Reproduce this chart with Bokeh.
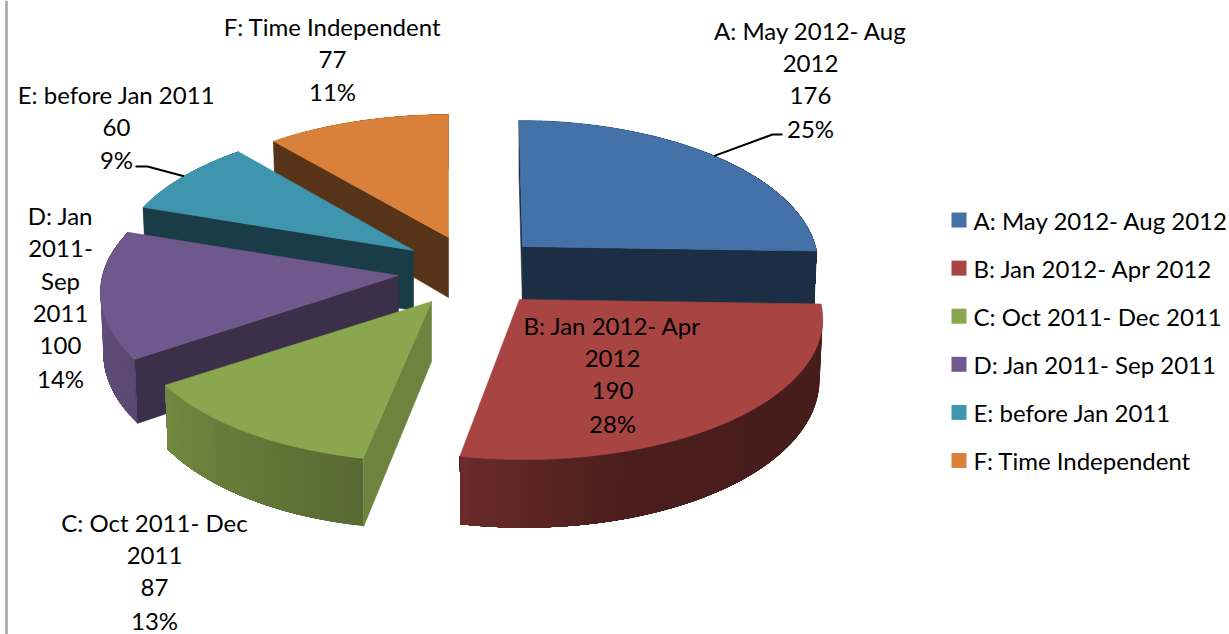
import numpy as np
from bokeh.plotting import figure
from bokeh.models import Range1d
from bokeh.core.properties import value
from bokeh.embed import file_html
from bokeh.resources import INLINE

# ---- data ----
categories = ["A: May 2012- Aug 2012", "B: Jan 2012- Apr 2012", "C: Oct 2011- Dec 2011",
              "D: Jan 2011- Sep 2011", "E: before Jan 2011", "F: Time Independent"]
values = [176, 190, 87, 100, 60, 77]
percents = ["25%", "28%", "13%", "14%", "9%", "11%"]
colors = ["#4472A8", "#A84442", "#8AA64F", "#6F588C", "#3F95AE", "#D9813B"]
wrapped = [["A: May 2012- Aug", "2012"], ["B: Jan 2012- Apr", "2012"], ["C: Oct 2011- Dec", "2011"],
           ["D: Jan", "2011-", "Sep", "2011"], ["E: before Jan 2011"], ["F: Time Independent"]]

# ---- layout of the exploded, perspective pie (pixels) ----
W, H = 1229, 634
apex = [(522, 246), (519, 299), (431, 301), (398, 275), (413, 250), (448, 237)]
shear = [0.028, 0.032, -0.03, 0.0, 0.0, 0.0]
rx_scale = [0.99, 1.015, 1.0, 1.0, 1.0, 1.0]
ry_scale = [1.0, 1.0, 1.0, 1.0, 1.0, 0.975]
cut_shade = [0.40, 0.40, 0.79, 0.53, 0.40, 0.40]
RX, A, K, DEPTH = 296.0, 141.0, 0.119, 60.0
label_x = [810, 612, 154, 60, 116, 332]
label_y = [30, 325, 522, 215, 94, 26]
LINE = 32.5
paint_order = [5, 4, 3, 2, 0, 1]
elbows = {0: [(772, 134), (782, 134)], 4: [(147, 166), (135, 166)]}
legend_x, legend_y0, legend_dy = 958.5, 219.5, 48.1
FONT = value("Lato")
FS = "24px"


def hex_scale(c, f):
    r, g, b = (int(c[i:i + 2], 16) for i in (1, 3, 5))
    return "#%02x%02x%02x" % (round(r * f), round(g * f), round(b * f))


def rim(i, deg, lower=False):
    t = np.radians(deg)
    s, c = np.sin(t), np.cos(t)
    w = 1 + K * c
    dx, dy = RX * rx_scale[i] * s / w, -A * ry_scale[i] * c / w
    dx = dx + shear[i] * dy
    if lower:
        return apex[i][0] + 0.99 * dx, apex[i][1] + dy + DEPTH / w
    return apex[i][0] + dx, apex[i][1] + dy


def side_shade(deg):
    return np.interp(deg, [0, 130, 165, 190, 236, 270, 300, 360],
                     [0.42, 0.42, 0.45, 0.63, 0.82, 0.88, 0.88, 0.6])


fracs = np.array(values, dtype=float) / sum(values)
edges = np.concatenate([[0], np.cumsum(fracs) * 360])

p = figure(width=W, height=H, output_backend="svg", toolbar_location=None,
           x_range=Range1d(0, W), y_range=Range1d(H, 0), min_border=0)
p.axis.visible = False
p.grid.visible = False
p.outline_line_color = None
p.background_fill_color = "white"
p.border_fill_color = "white"

p.line([6, 6], [0, H], line_color="#a6a6a6", line_width=2.6)

for i in paint_order:
    a0, a1 = edges[i], edges[i + 1]
    col = colors[i]
    # outer wall: overlapping strips, each painted over the last, for the shading
    steps = np.linspace(a0, a1, max(3, int((a1 - a0) / 1.5) + 1))
    for u, v in zip(steps[:-1], steps[1:]):
        ext = np.linspace(u, a1, 12)
        top = [rim(i, d) for d in ext]
        bot = [rim(i, d, True) for d in ext[::-1]]
        xs = [q[0] for q in top + bot]
        ys = [q[1] for q in top + bot]
        p.patch(xs, ys, fill_color=hex_scale(col, side_shade((u + v) / 2)), line_color=None)
    # the two cut faces, only when they turn towards the viewer
    ax, ay = apex[i]
    for deg, is_start in ((a0, True), (a1, False)):
        t, b = rim(i, deg), rim(i, deg, True)
        if (t[0] < ax) == is_start:
            shade = hex_scale(col, cut_shade[i])
            p.patch([ax, t[0], b[0], ax], [ay, t[1], b[1], ay + DEPTH],
                    fill_color=shade, line_color=shade, line_width=0.6)
    # top face
    ang = np.linspace(a0, a1, 90)
    pts = [rim(i, d) for d in ang]
    p.patch([ax] + [q[0] for q in pts], [ay] + [q[1] for q in pts],
            fill_color=col, line_color=col, line_width=0.6)

# leader lines start on the rim at the middle of their slice
for i, elbow in elbows.items():
    st = rim(i, (edges[i] + edges[i + 1]) / 2)
    p.line([st[0]] + [e[0] for e in elbow], [st[1]] + [e[1] for e in elbow],
           line_color="black", line_width=2)

# data labels
tx, ty, tt = [], [], []
for i in range(len(values)):
    lines = wrapped[i] + [str(values[i]), percents[i]]
    for n, s in enumerate(lines):
        tx.append(label_x[i])
        ty.append(label_y[i] + n * LINE)
        tt.append(s)
p.text(tx, ty, text=tt, text_font=FONT, text_font_size=FS, text_align="center",
       text_baseline="middle", text_color="black")

# legend
ly = [legend_y0 + n * legend_dy for n in range(len(categories))]
p.scatter([legend_x] * len(ly), ly, marker="square", size=15, fill_color=colors, line_color=None)
p.text([973] * len(ly), ly, text=categories, text_font=FONT, text_font_size=FS,
       text_align="left", text_baseline="middle", text_color="black")

open("out.html", "w").write(file_html(p, INLINE))
